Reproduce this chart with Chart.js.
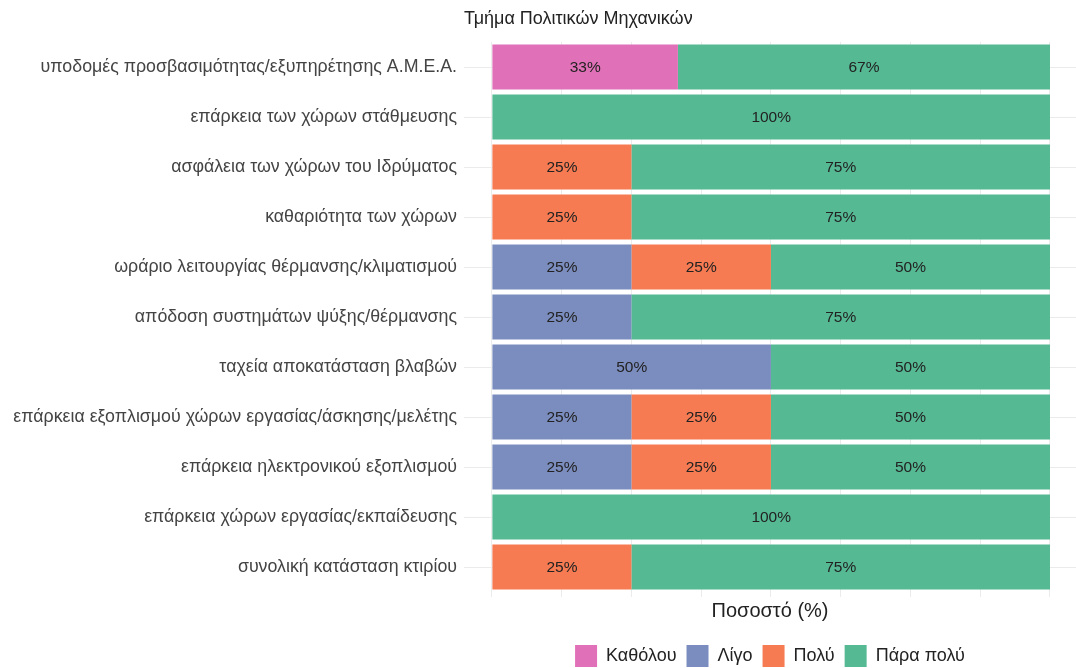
<!DOCTYPE html>
<html>
<head>
<meta charset="utf-8">
<script src="https://cdn.jsdelivr.net/npm/chart.js@4.4.0/dist/chart.umd.min.js"></script>
<style>
  html, body { margin: 0; padding: 0; background: #fff; }
  #wrap { width: 1076px; height: 668px; }
</style>
</head>
<body>
<div id="wrap"><canvas id="chart" width="1076" height="668"></canvas></div>
<script>
"use strict";

const TITLE = "Τμήμα Πολιτικών Μηχανικών";
const X_TITLE = "Ποσοστό (%)";

const categories = [
  "υποδομές προσβασιμότητας/εξυπηρέτησης Α.Μ.Ε.Α.",
  "επάρκεια των χώρων στάθμευσης",
  "ασφάλεια των χώρων του Ιδρύματος",
  "καθαριότητα των χώρων",
  "ωράριο λειτουργίας θέρμανσης/κλιματισμού",
  "απόδοση συστημάτων ψύξης/θέρμανσης",
  "ταχεία αποκατάσταση βλαβών",
  "επάρκεια εξοπλισμού χώρων εργασίας/άσκησης/μελέτης",
  "επάρκεια ηλεκτρονικού εξοπλισμού",
  "επάρκεια χώρων εργασίας/εκπαίδευσης",
  "συνολική κατάσταση κτιρίου"
];

const seriesNames = ["Καθόλου", "Λίγο", "Πολύ", "Πάρα πολύ"];

const katholou  = [33.33, 0, 0, 0, 0, 0, 0, 0, 0, 0, 0];
const ligo      = [0, 0, 0, 0, 25, 25, 50, 25, 25, 0, 0];
const poly      = [0, 0, 25, 25, 25, 0, 0, 25, 25, 0, 25];
const paraPoly  = [66.67, 100, 75, 75, 50, 75, 50, 50, 50, 100, 75];

const gridValues = [0, 12.5, 25, 37.5, 50, 62.5, 75, 87.5, 100];

const COLORS = ["#E070B7", "#7B8DBF", "#F77B52", "#55B994"];
const FONT = "'Liberation Sans', Arial, sans-serif";

// labels in the middle of each segment
const segmentLabels = {
  id: "segmentLabels",
  afterDatasetsDraw(chart) {
    const ctx = chart.ctx;
    ctx.save();
    ctx.font = "15.5px " + FONT;
    ctx.fillStyle = "#222";
    ctx.textAlign = "center";
    ctx.textBaseline = "middle";
    chart.data.datasets.forEach((ds, di) => {
      const meta = chart.getDatasetMeta(di);
      meta.data.forEach((bar, i) => {
        const v = ds.data[i];
        if (!v) return;
        const x = (bar.x + bar.base) / 2;
        ctx.fillText(Math.round(v) + "%", x, bar.y + 1);
      });
    });
    ctx.restore();
  }
};

const datasets = [katholou, ligo, poly, paraPoly].map((d, i) => ({
  label: seriesNames[i],
  data: d,
  backgroundColor: COLORS[i],
  borderWidth: 0,
  barPercentage: 0.9,
  categoryPercentage: 1.0
}));

new Chart(document.getElementById("chart"), {
  type: "bar",
  data: { labels: categories, datasets: datasets },
  options: {
    indexAxis: "y",
    responsive: false,
    animation: false,
    layout: { padding: { left: 0, right: 0, top: 0, bottom: -9 } },
    scales: {
      x: {
        stacked: true,
        min: -5,
        max: 104.66,
        afterBuildTicks: (scale) => {
          scale.ticks = gridValues.map(v => ({ value: v }));
        },
        border: { display: false },
        grid: { color: "#EBEBEB", lineWidth: 1, drawTicks: true, tickLength: 5 },
        ticks: { display: false },
        title: {
          display: true,
          text: X_TITLE,
          font: { family: FONT, size: 20 },
          color: "#222",
          padding: { top: 2, bottom: 12 }
        }
      },
      y: {
        stacked: true,
        afterFit: (scale) => { scale.width = 464; },
        border: { display: false },
        grid: { color: "#EBEBEB", offset: false, drawTicks: false },
        ticks: {
          font: { family: FONT, size: 17.8 },
          color: "#444",
          padding: 7
        }
      }
    },
    plugins: {
      title: {
        display: true,
        text: TITLE,
        align: "start",
        fullSize: false,
        font: { family: FONT, size: 18, weight: "normal" },
        color: "#222",
        padding: { top: 8, bottom: 12.4 }
      },
      legend: {
        position: "bottom",
        fullSize: false,
        labels: {
          boxWidth: 22,
          boxHeight: 22,
          font: { family: FONT, size: 18 },
          color: "#222",
          padding: 10
        }
      },
      tooltip: { enabled: false }
    }
  },
  plugins: [segmentLabels]
});
</script>
</body>
</html>
